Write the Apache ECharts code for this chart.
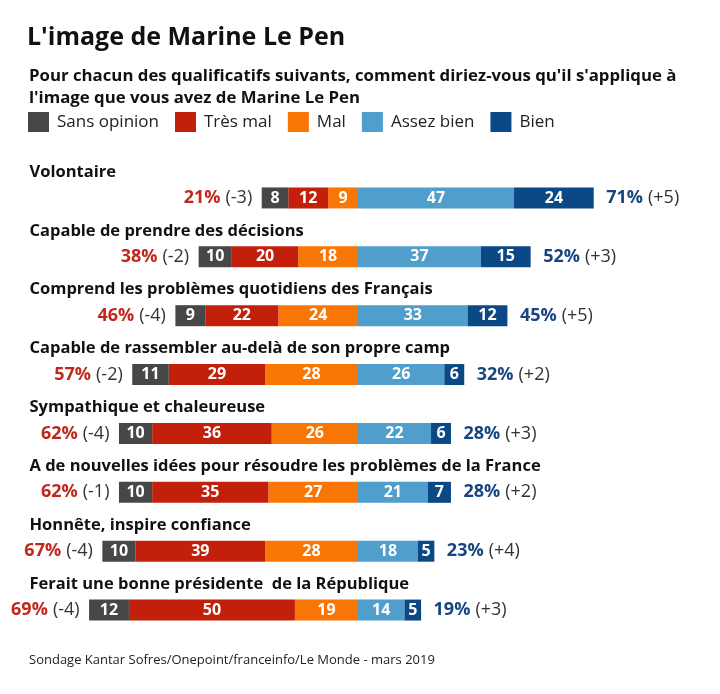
<!DOCTYPE html>
<html>
<head>
<meta charset="utf-8">
<script src="https://cdn.jsdelivr.net/npm/echarts@6/dist/echarts.min.js"></script>
<style>html,body{margin:0;padding:0;background:#fff}#c{width:720px;height:694px}</style>
</head>
<body>
<div id="c"></div>
<script>
const categories = [
  "Volontaire",
  "Capable de prendre des décisions",
  "Comprend les problèmes quotidiens des Français",
  "Capable de rassembler au-delà de son propre camp",
  "Sympathique et chaleureuse",
  "A de nouvelles idées pour résoudre les problèmes de la France",
  "Honnête, inspire confiance",
  "Ferait une bonne présidente  de la République"
];
const sansOpinion = [8, 10, 9, 11, 10, 10, 10, 12];
const tresMal     = [12, 20, 22, 29, 36, 35, 39, 50];
const mal         = [9, 18, 24, 28, 26, 27, 28, 19];
const assezBien   = [47, 37, 33, 26, 22, 21, 18, 14];
const bien        = [24, 15, 12, 6, 6, 7, 5, 5];
const negChange   = ["-3", "-2", "-4", "-2", "-4", "-1", "-4", "-4"];
const posChange   = ["+5", "+3", "+5", "+2", "+3", "+2", "+4", "+3"];
const seriesNames = ["Sans opinion", "Très mal", "Mal", "Assez bien", "Bien"];
const axisMin = -100, axisMax = 100;

const C = {so:'#474747', tm:'#c3200c', m:'#f87606', ab:'#4f9ecb', b:'#0b4886'};
const FONT = '"Open Sans", "Noto Sans", sans-serif';

const barLabel = {
  show: true, position: 'inside', color: '#fff', fontWeight: 'bold',
  fontSize: 16, fontFamily: FONT,
  formatter: p => Math.abs(p.value)
};
function barSeries(name, data, color) {
  return {
    name, type: 'bar', stack: 'total', barWidth: 21, data,
    itemStyle: {color}, label: barLabel, emphasis: {disabled: true}
  };
}

const leftPts = categories.map((c, i) => ({
  value: [-(sansOpinion[i] + tresMal[i] + mal[i]), i],
  total: tresMal[i] + mal[i], change: negChange[i]
}));
const rightPts = categories.map((c, i) => ({
  value: [assezBien[i] + bien[i], i],
  total: assezBien[i] + bien[i], change: posChange[i]
}));
const namePts = categories.map((c, i) => ({value: [axisMin, i], name: c}));

const hidden = {color: 'rgba(0,0,0,0)', opacity: 1};

const chart = echarts.init(document.getElementById('c'), null, {renderer: 'canvas'});
chart.setOption({
  animation: false,
  backgroundColor: '#fff',
  textStyle: {fontFamily: FONT},
  title: [
    {text: "L'image de Marine Le Pen", left: 22, top: 20,
     textStyle: {fontSize: 25, fontWeight: 'bold', color: '#111', fontFamily: FONT}},
    {text: "Pour chacun des qualificatifs suivants, comment diriez-vous qu'il s'applique à\nl'image que vous avez de Marine Le Pen",
     left: 24, top: 60,
     textStyle: {fontSize: 16.8, fontWeight: 'bold', color: '#111', lineHeight: 22, fontFamily: FONT}},
    {text: "Sondage Kantar Sofres/Onepoint/franceinfo/Le Monde - mars 2019",
     left: 24, top: 649,
     textStyle: {fontSize: 13, fontWeight: 'normal', color: '#222', fontFamily: FONT}}
  ],
  legend: {
    data: seriesNames, left: 23, top: 107, icon: 'rect',
    itemWidth: 21, itemHeight: 20, itemGap: 16, selectedMode: false,
    textStyle: {fontSize: 17, color: '#222', fontFamily: FONT, padding: [0, 0, 0, 3]}
  },
  grid: {left: 26, right: 30, top: 168.5, bottom: 54.5, containLabel: false},
  xAxis: {type: 'value', min: axisMin, max: axisMax, show: false},
  yAxis: {
    type: 'category', data: categories, inverse: true, show: false
  },
  series: [
    barSeries("Mal", mal.map(v => -v), C.m),
    barSeries("Très mal", tresMal.map(v => -v), C.tm),
    barSeries("Sans opinion", sansOpinion.map(v => -v), C.so),
    barSeries("Assez bien", assezBien, C.ab),
    barSeries("Bien", bien, C.b),
    {
      type: 'scatter', data: namePts, symbolSize: 1, itemStyle: hidden, silent: true,
      label: {
        show: true, position: 'right', distance: 3, offset: [0, -26],
        formatter: p => p.data.name,
        fontSize: 16.5, fontWeight: 'bold', color: '#111', fontFamily: FONT
      }
    },
    {
      type: 'scatter', data: leftPts, symbolSize: 1, itemStyle: hidden, silent: true,
      label: {
        show: true, position: 'left', distance: 9,
        formatter: p => `{p|${p.data.total}%}{c|(${p.data.change})}`,
        rich: {
          p: {fontSize: 18, fontWeight: 'bold', color: '#c0281c', fontFamily: FONT},
          c: {fontSize: 18, color: '#333', fontFamily: FONT, padding: [0, 0, 0, 5]}
        }
      }
    },
    {
      type: 'scatter', data: rightPts, symbolSize: 1, itemStyle: hidden, silent: true,
      label: {
        show: true, position: 'right', distance: 12,
        formatter: p => `{p|${p.data.total}%}{c|(${p.data.change})}`,
        rich: {
          p: {fontSize: 18, fontWeight: 'bold', color: '#17457f', fontFamily: FONT},
          c: {fontSize: 18, color: '#333', fontFamily: FONT, padding: [0, 0, 0, 5]}
        }
      }
    }
  ]
});
</script>
</body>
</html>
